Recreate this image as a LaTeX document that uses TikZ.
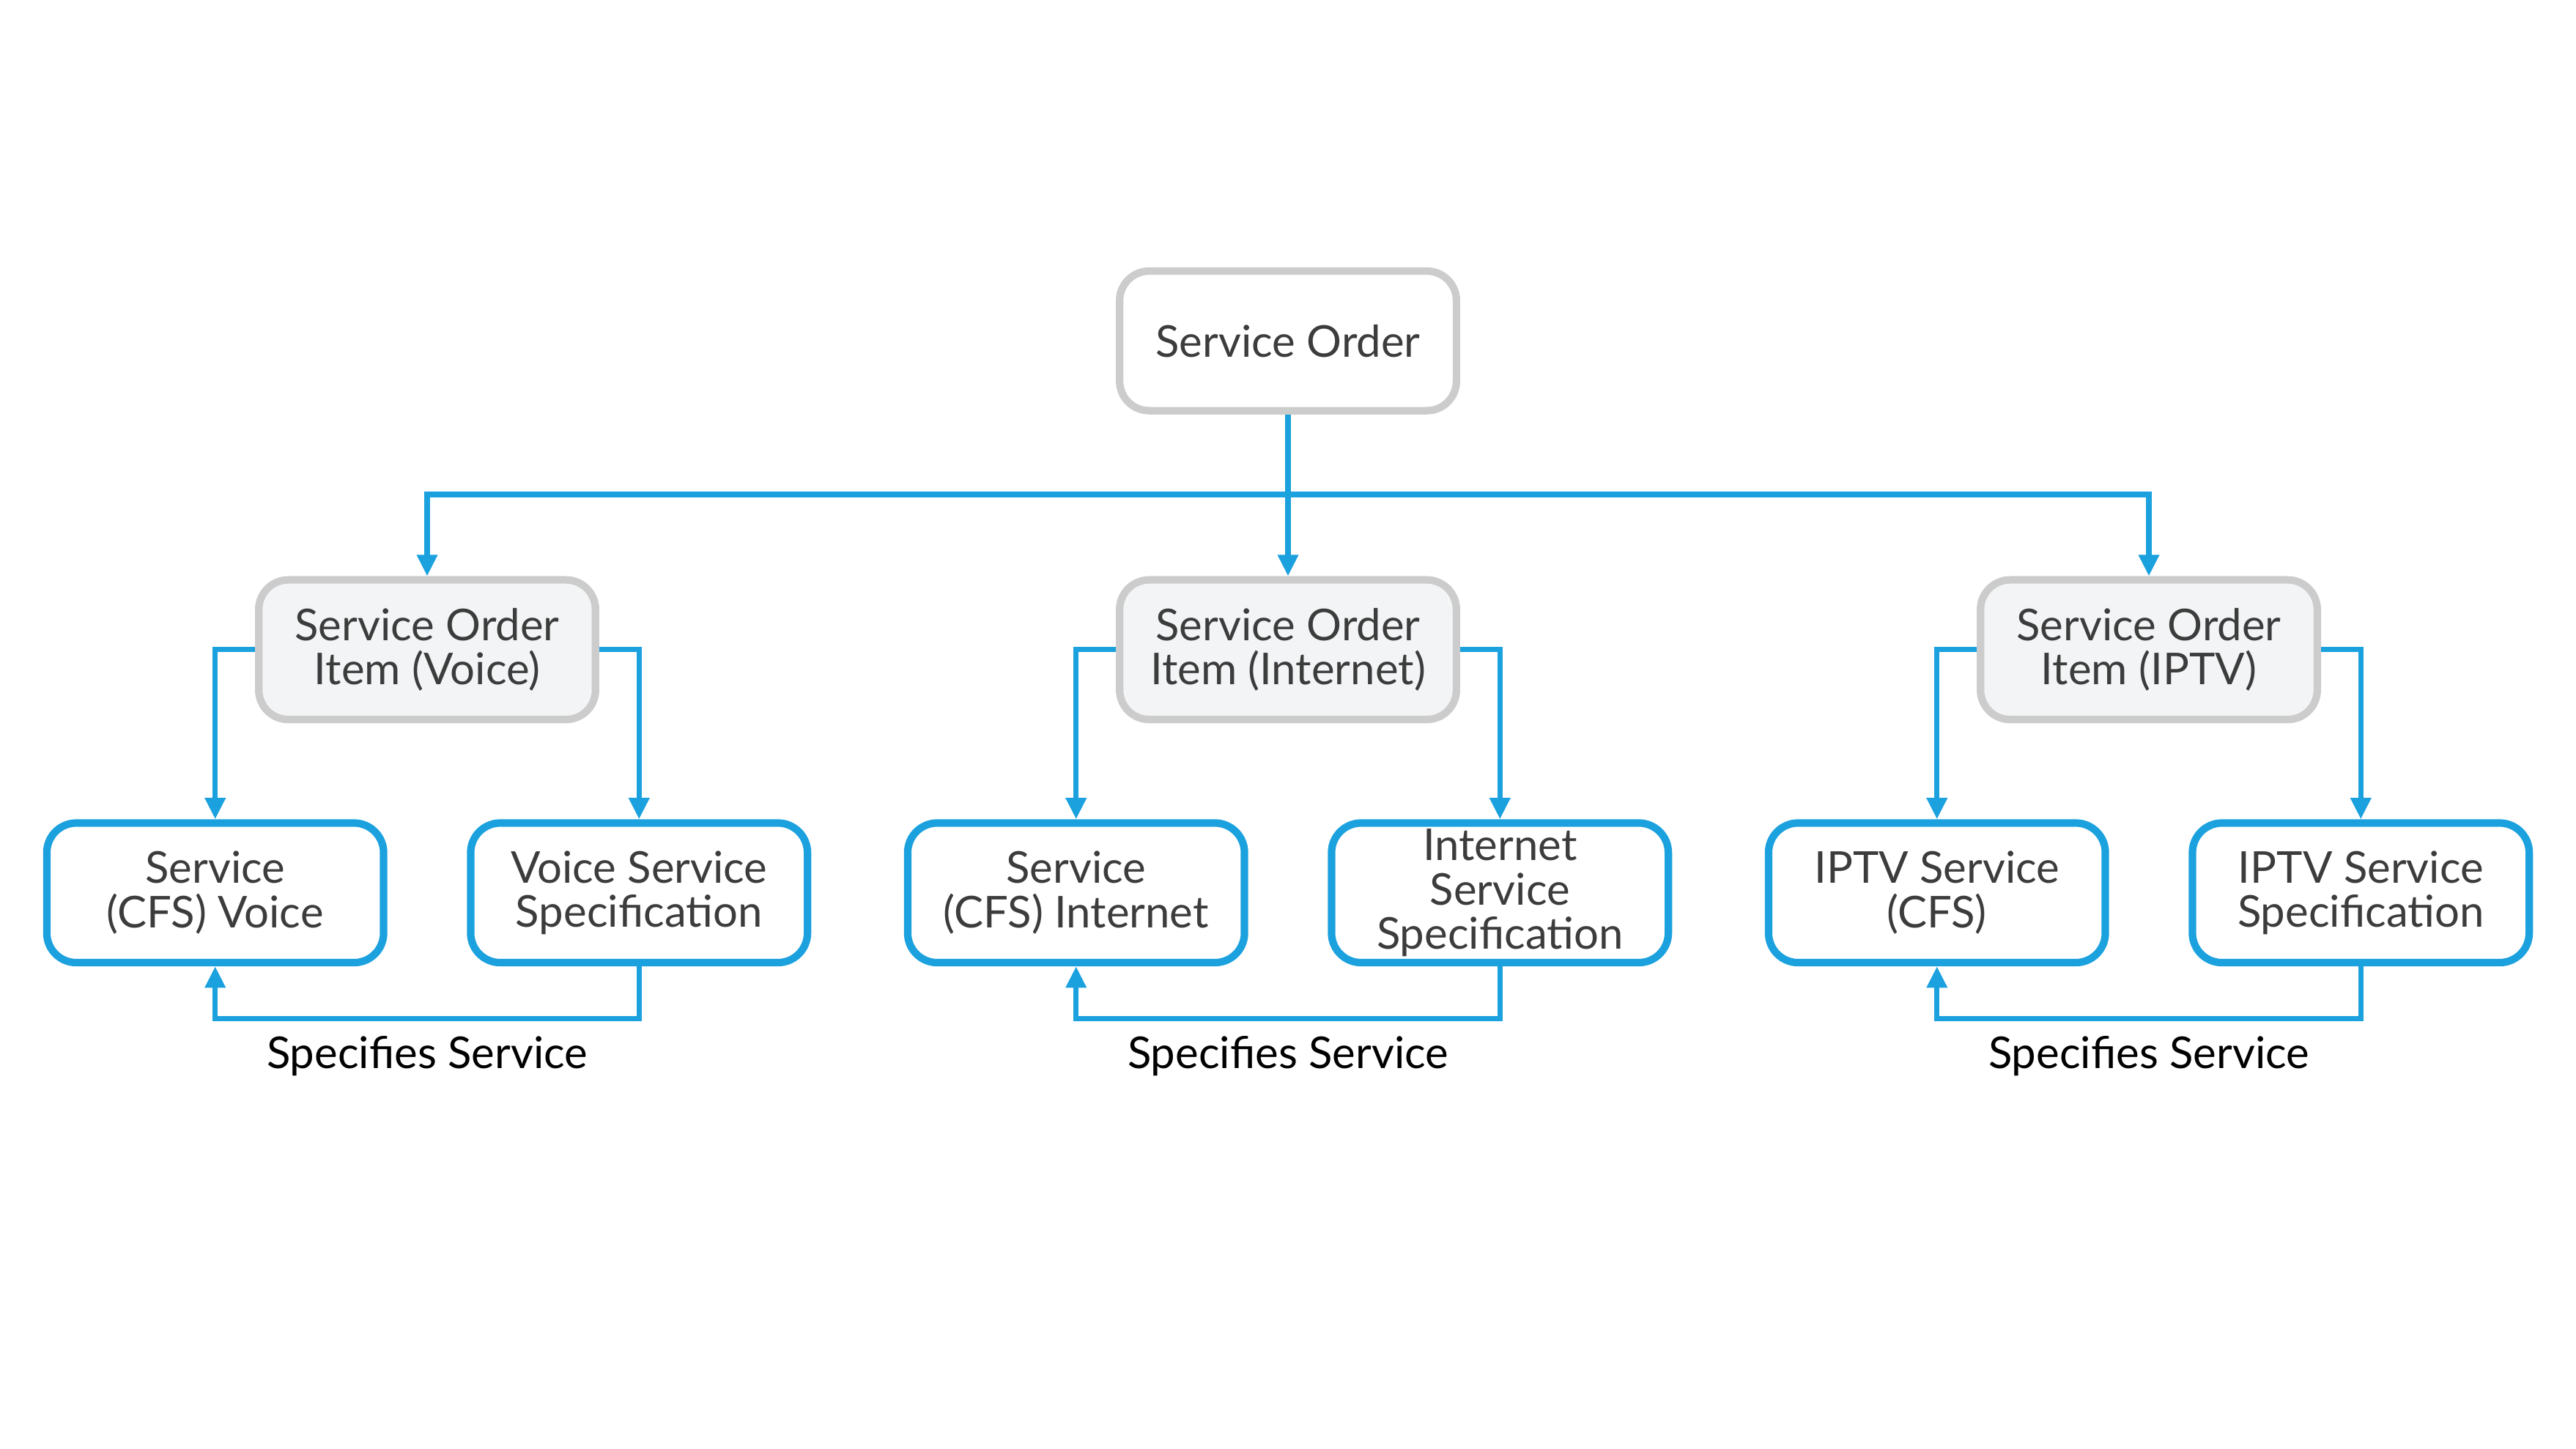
\documentclass[tikz,border=0pt]{standalone}
\usepackage{fontspec}
\setmainfont{Lato}
\usetikzlibrary{positioning,arrows.meta}
\definecolor{linkblue}{HTML}{1BA1DE}
\definecolor{boxgrey}{HTML}{CCCCCC}
\definecolor{boxfill}{HTML}{F2F4F5}
\definecolor{textgrey}{HTML}{3C3C3C}

\begin{document}
\begin{tikzpicture}[node distance=2cm,on grid,
    order/.style={draw=boxgrey,fill=white,line width=1.3pt,rounded corners=0.18cm,
      minimum width=2.05cm,minimum height=0.85cm,inner sep=1pt,align=center,
      text=textgrey,font=\fontsize{7.6}{7.68}\selectfont},
    item/.style={order,fill=boxfill},
    spec/.style={order,draw=linkblue},
    link/.style={draw=linkblue,line width=0.9pt,-{Triangle[width=0.12cm,length=0.13cm]}},
    elbow/.style={to path={-| (\tikztotarget)}},
    tag/.style={text=black,inner sep=0pt,font=\fontsize{7.6}{7.68}\selectfont}]
   \useasboundingbox (0,0) rectangle (15.68,-8.82);
   \node[order] (so) at (7.84,-2.075) {Service Order};
   \coordinate[below=0.935cm of so] (bus);
   \node[item] (soi_i) [below=1.88cm of so] {Service Order\\Item (Internet)};
   \node[item] (soi_v) [left=5.24cm of soi_i] {Service Order\\Item (Voice)};
   \node[item] (soi_t) [right=5.24cm of soi_i] {Service Order\\Item (IPTV)};
   \node[spec] (cfs_v) [below left=1.48cm and 1.29cm of soi_v] {Service\\(CFS) Voice};
   \node[spec] (sp_v) [below right=1.48cm and 1.29cm of soi_v] {Voice Service\\Specification};
   \node[spec] (cfs_i) [below left=1.48cm and 1.29cm of soi_i] {Service\\(CFS) Internet};
   \node[spec] (sp_i) [below right=1.48cm and 1.29cm of soi_i] {Internet\\Service\\Specification};
   \node[spec] (cfs_t) [below left=1.48cm and 1.29cm of soi_t] {IPTV Service\\(CFS)};
   \node[spec] (sp_t) [below right=1.48cm and 1.29cm of soi_t] {IPTV Service\\Specification};
   % order to items
   \draw[link] (so.south) -- (bus) -| (soi_v.north);
   \draw[link] (bus) -- (soi_i.north);
   \draw[link] (bus) -| (soi_t.north);
   % items to service and specification
   \path
    (soi_v.west) edge[link,elbow] (cfs_v.north)
    (soi_v.east) edge[link,elbow] (sp_v.north)
    (soi_i.west) edge[link,elbow] (cfs_i.north)
    (soi_i.east) edge[link,elbow] (sp_i.north)
    (soi_t.west) edge[link,elbow] (cfs_t.north)
    (soi_t.east) edge[link,elbow] (sp_t.north);
   % specification back to service
   \draw[link] (sp_v.south) -- ++(0,-0.32) -| node[tag,pos=0.25,below=0.09cm] {Specifies Service} (cfs_v.south);
   \draw[link] (sp_i.south) -- ++(0,-0.32) -| node[tag,pos=0.25,below=0.09cm] {Specifies Service} (cfs_i.south);
   \draw[link] (sp_t.south) -- ++(0,-0.32) -| node[tag,pos=0.25,below=0.09cm] {Specifies Service} (cfs_t.south);
\end{tikzpicture}
\end{document}
